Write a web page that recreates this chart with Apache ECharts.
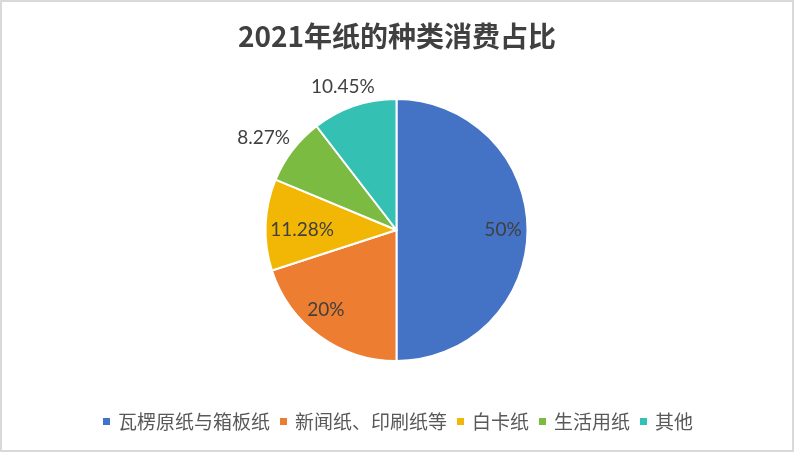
<!DOCTYPE html>
<html><head><meta charset="utf-8">
<script src="https://cdn.jsdelivr.net/npm/echarts@6/dist/echarts.min.js"></script>
<style>
html,body{margin:0;padding:0;background:#fff;}
#wrap{position:relative;width:794px;height:452px;}
#c{position:absolute;left:0;top:0;width:794px;height:452px;}
#b{position:absolute;left:0;top:0;width:794px;height:452px;box-sizing:border-box;border:2px solid #D9D9D9;pointer-events:none;}
</style></head>
<body><div id="wrap"><div id="c"></div><div id="b"></div></div>
<script>
const titleText = '2021年纸的种类消费占比';
const categories = ['瓦楞原纸与箱板纸', '新闻纸、印刷纸等', '白卡纸', '生活用纸', '其他'];
const values = [50, 20, 11.28, 8.27, 10.45];
const labels = ['50%', '20%', '11.28%', '8.27%', '10.45%'];
const colors = ['#4472C4', '#ED7D31', '#F2B705', '#7CBB42', '#34C0B3'];
const insideIdx = [0, 1, 2];

const chart = echarts.init(document.getElementById('c'));
const fontCJK = '"Noto Sans CJK SC", "Noto Sans", sans-serif';
const fontNum = 'Lato, "Open Sans", sans-serif';
const mainData = categories.map((n, i) => ({
  name: n, value: values[i],
  label: { show: insideIdx.indexOf(i) < 0, formatter: labels[i] }
}));
const carrierData = categories.map((n, i) => ({
  name: n, value: values[i],
  label: { show: insideIdx.indexOf(i) >= 0, formatter: labels[i] }
}));
// small label nudges (Excel "best fit" placement)
const outsideNudge = { 3: { align: 'center', dx: -8 }, 4: { align: 'center' } };
const insideNudge = { 1: { dx: -8, dy: -6 }, 2: { dx: 12, dy: 4 } };
chart.setOption({
  animation: false,
  color: colors,
  title: {
    text: titleText, left: 'center', top: 17,
    textStyle: { fontFamily: fontCJK, fontSize: 28, fontWeight: 'bold', color: '#404040' }
  },
  legend: {
    bottom: 16, left: 'center', itemWidth: 9, itemHeight: 9, itemGap: 8,
    icon: 'rect',
    data: categories,
    textStyle: { fontFamily: fontCJK, fontSize: 19, color: '#595959', padding: [0, 0, 0, 2] }
  },
  series: [
    {
      type: 'pie', center: [396.5, 230], radius: [0, 131], startAngle: 90, clockwise: true,
      data: mainData,
      itemStyle: { borderColor: '#fff', borderWidth: 2 },
      label: { position: 'outside', fontFamily: fontNum, fontSize: 19, color: '#404040', distanceToLabelLine: 5 },
      labelLine: { show: false, length: 20, length2: 0 },
      labelLayout: function (p) { return outsideNudge[p.dataIndex] || {}; },
      emphasis: { disabled: true }
    },
    {
      type: 'pie', center: [396.5, 230], radius: [0, 207], startAngle: 90, clockwise: true,
      data: carrierData, silent: true, legendHoverLink: false,
      itemStyle: { color: 'rgba(0,0,0,0)' },
      label: { position: 'inside', fontFamily: fontNum, fontSize: 19, color: '#404040' },
      labelLine: { show: false },
      labelLayout: function (p) { return insideNudge[p.dataIndex] || {}; },
      emphasis: { disabled: true }
    }
  ]
});
</script></body></html>
